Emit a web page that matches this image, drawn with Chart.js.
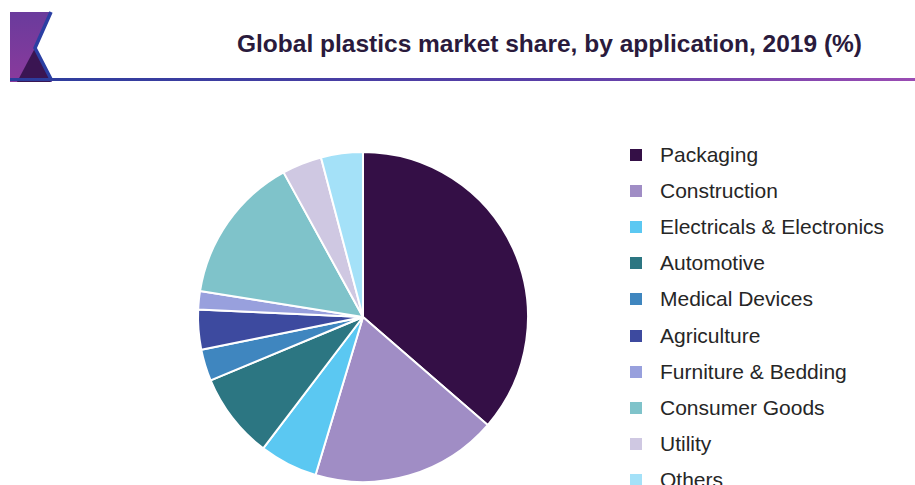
<!DOCTYPE html>
<html>
<head>
<meta charset="utf-8">
<script src="https://cdn.jsdelivr.net/npm/chart.js@4/dist/chart.umd.min.js"></script>
<style>
  html, body { margin:0; padding:0; background:#fff; }
  body { width:915px; height:485px; overflow:hidden; position:relative; font-family:"Liberation Sans", Arial, sans-serif; }
  #logo { position:absolute; left:0; top:0; }
  #hline { position:absolute; left:10px; top:78px; width:905px; height:3px;
           background:linear-gradient(to right, #2b3d9c, #5a3fa8 60%, #9a4cb3); }
  #title { position:absolute; left:0; width:915px; top:30px; text-align:left; padding-left:237px; box-sizing:border-box;
           font-weight:bold; font-size:24.5px; color:#2a1a3c; white-space:nowrap; letter-spacing:0px; }
  #pieWrap { position:absolute; left:193px; top:147px; width:340px; height:340px; }
  #legend { position:absolute; left:630px; top:0; }
  .li { position:absolute; left:0; white-space:nowrap; font-size:21px; color:#262626; }
  .sw { position:absolute; left:0; width:12px; height:12px; }
  .lt { position:absolute; left:30px; }
</style>
</head>
<body>
<svg id="logo" width="60" height="90">
  <defs>
    <linearGradient id="lg" x1="0" y1="0" x2="0" y2="1">
      <stop offset="0" stop-color="#6a3b9c"/>
      <stop offset="1" stop-color="#8a3a9c"/>
    </linearGradient>
  </defs>
  <polygon points="10,12 51,12 35,48 52,82 10,82" fill="url(#lg)"/>
  <polygon points="17,82 35,48 51,82" fill="#3a1552"/>
  <polyline points="51,12 35,48 52,81" fill="none" stroke="#2b3fa3" stroke-width="3.5"/>
</svg>
<div id="hline"></div>
<div id="title">Global plastics market share, by application, 2019 (%)</div>
<div id="pieWrap"><canvas id="c" width="340" height="340"></canvas></div>
<div id="legend"></div>
<script>
const categories = ["Packaging","Construction","Electricals & Electronics","Automotive","Medical Devices","Agriculture","Furniture & Bedding","Consumer Goods","Utility","Others"];
const shares = [36.4, 18.3, 5.7, 8.4, 3.1, 3.9, 1.8, 14.5, 3.9, 4.1];
const colors = ["#340f46","#a08dc5","#5bc8f2","#2c7682","#3f86bf","#3d4a9f","#98a0dd","#7fc3ca","#cfc8e2","#a4e1f8"];

const legend = document.getElementById('legend');
categories.forEach((name, i) => {
  const y = 155 + i * 36.1;
  const sw = document.createElement('div');
  sw.className = 'sw';
  sw.style.top = (y - 6) + 'px';
  sw.style.background = colors[i];
  legend.appendChild(sw);
  const t = document.createElement('div');
  t.className = 'li lt';
  t.style.top = (y - 12) + 'px';
  t.textContent = name;
  legend.appendChild(t);
});

new Chart(document.getElementById('c'), {
  type: 'pie',
  data: {
    labels: categories,
    datasets: [{
      data: shares,
      backgroundColor: colors,
      borderColor: '#ffffff',
      borderWidth: 2
    }]
  },
  options: {
    responsive: false,
    animation: false,
    radius: 165,
    layout: { padding: 0 },
    plugins: { legend: { display: false }, tooltip: { enabled: false } }
  }
});
</script>
</body>
</html>
